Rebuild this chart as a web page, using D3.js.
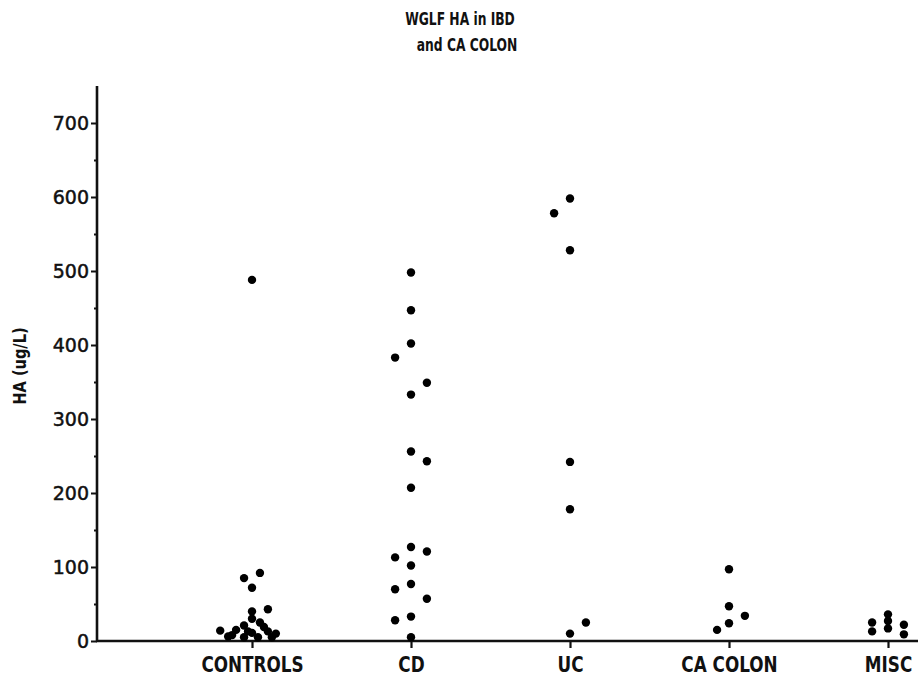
<!DOCTYPE html>
<html><head><meta charset="utf-8">
<script src="https://cdn.jsdelivr.net/npm/d3@7"></script>
<style>
body{margin:0;background:#fff;}
svg{display:block;}
.lbl{font-family:"DejaVu Sans Condensed","DejaVu Sans",sans-serif;font-weight:bold;fill:#111;}
.num{font-family:"DejaVu Sans","Verdana",sans-serif;fill:#111;stroke:#111;stroke-width:0.5px;}
.ylab{font-family:"DejaVu Sans Condensed","DejaVu Sans",sans-serif;font-weight:bold;fill:#111;}
</style></head>
<body>
<svg id="c" width="918" height="679"></svg>
<script>
// ---- data ----
const categories = ["CONTROLS","CD","UC","CA COLON","MISC"];
const yTicks = [0,100,200,300,400,500,600,700];
const yMinorTicks = [50,150,250,350,450,550,650];
const titleLines = ["WGLF HA in IBD","and CA COLON"];
const yLabel = "HA (ug/L)";

// values (ug/L) per group, with jitter slot (scatter column, in half-dot steps)
const controlsValues = [488,92,85,72,43,40,30,25,21,19,15,14,13,13,11,10,8,6,5,5,5];
const controlsSlots  = [0,  1, -1, 0, 2, 0, 0, 1,-1,1.5,-2,-4, 2,-0.5,0, 3,-2.5,-3,-1,0.75,2.5];
const cdValues = [498,447,402,383,349,333,256,243,207,127,121,113,102,77,70,57,33,28,5];
const cdSlots  = [0,  0,  0, -2,  2,  0,  0,  2,  0,  0,  2, -2,  0, 0,-2, 2, 0,-2,0];
const ucValues = [598,578,528,242,178,25,10];
const ucSlots  = [0, -2,  0,  0,  0,  2, 0];
const caColonValues = [97,47,34,24,15];
const caColonSlots  = [0, 0, 2, 0,-1.5];
const miscValues = [25,13,36,27,17,22,9];
const miscSlots  = [-2,-2,0, 0, 0, 2, 2];

const groups = [
  {values:controlsValues, slots:controlsSlots},
  {values:cdValues, slots:cdSlots},
  {values:ucValues, slots:ucSlots},
  {values:caColonValues, slots:caColonSlots},
  {values:miscValues, slots:miscSlots}
];

// ---- layout ----
const svg = d3.select("#c");
const axisX = 97;
const x = d3.scaleLinear().domain([1,5]).range([252,888]);
const y = d3.scaleLinear().domain([0,750]).range([641,86]);
const slotW = 0.05;

// title (narrow plotter-style lettering)
svg.append("g").attr("transform","translate(460,25) scale(0.76,1)")
  .append("text").attr("class","lbl").attr("text-anchor","middle")
  .style("font-size","18px").text(titleLines[0]);
svg.append("g").attr("transform","translate(467,51) scale(0.76,1)")
  .append("text").attr("class","lbl").attr("text-anchor","middle")
  .style("font-size","18px").text(titleLines[1]);

// y axis
const yAxis = svg.append("g").attr("transform",`translate(${axisX},0)`)
  .call(d3.axisLeft(y).tickValues(yTicks).tickSize(6).tickPadding(2).tickFormat(d3.format("d")));
yAxis.select(".domain").attr("stroke","#111").attr("stroke-width",2.6).attr("d",`M0,${y(750)}V${y(0)}`);
yAxis.selectAll(".tick line").attr("stroke","#111").attr("stroke-width",2);
yAxis.selectAll(".tick text").attr("class","num").style("font-size","19px").attr("dy","0.35em");
const yMinor = svg.append("g").attr("transform",`translate(${axisX},0)`)
  .call(d3.axisLeft(y).tickValues(yMinorTicks).tickSize(3).tickFormat(""));
yMinor.select(".domain").remove();
yMinor.selectAll(".tick line").attr("stroke","#111").attr("stroke-width",2);

// y label
svg.append("g").attr("transform",`translate(26,366) rotate(-90) scale(0.9,1)`)
  .append("text").attr("class","ylab")
  .attr("text-anchor","middle").style("font-size","18px").text(yLabel);

// x axis
const xAxis = svg.append("g").attr("transform",`translate(0,${y(0)})`)
  .call(d3.axisBottom(x).tickValues([1,2,3,4,5]).tickSize(7).tickPadding(5)
    .tickFormat(i => categories[i-1]));
xAxis.select(".domain").remove();
xAxis.append("line").attr("x1",axisX-1).attr("x2",918).attr("y1",0).attr("y2",0)
  .attr("stroke","#111").attr("stroke-width",2.6);
xAxis.selectAll(".tick line").attr("stroke","#111").attr("stroke-width",2.2);
xAxis.selectAll(".tick text").attr("class","lbl").style("font-size","22px")
  .attr("dy","0.85em").attr("transform","scale(0.85,1)");

// points
const pts = [];
groups.forEach((g,gi) => g.values.forEach((v,i) => pts.push({cat:gi+1, v, s:g.slots[i]})));
svg.append("g").selectAll("circle").data(pts).join("circle")
  .attr("cx", d => x(d.cat + d.s*slotW))
  .attr("cy", d => y(d.v))
  .attr("r", 4.2)
  .attr("fill","#000");
</script>
</body></html>
